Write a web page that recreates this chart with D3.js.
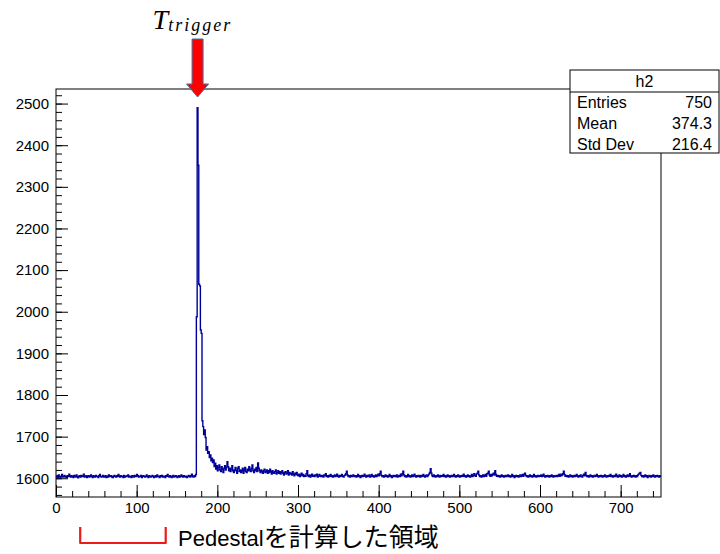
<!DOCTYPE html>
<html>
<head>
<meta charset="utf-8">
<script src="https://cdn.jsdelivr.net/npm/d3@7"></script>
<style>
  html, body { margin: 0; padding: 0; background: #fff; }
  svg { display: block; }
  text { font-family: "Liberation Sans", Arial, Helvetica, sans-serif; }
</style>
</head>
<body>
<svg id="chart" width="720" height="554"></svg>
<script>
// histogram h2 : 750 bins, one value per bin
const counts = [
  1603,1606,1602,1608,1604,1601,1605,1609,1603,1604,
  1607,1603,1605,1602,1606,1604,1610,1605,1603,1606,
  1604,1602,1607,1605,1603,1608,1604,1601,1605,1606,
  1603,1607,1604,1605,1610,1603,1604,1606,1602,1605,
  1606,1603,1605,1608,1604,1602,1606,1604,1603,1607,
  1605,1604,1602,1606,1609,1604,1603,1605,1607,1603,
  1604,1606,1602,1605,1603,1608,1604,1605,1606,1603,
  1602,1605,1607,1604,1603,1606,1604,1609,1605,1603,
  1606,1604,1605,1602,1607,1603,1605,1604,1606,1608,
  1603,1605,1604,1602,1606,1605,1603,1607,1604,1605,
  1609,1606,1603,1605,1604,1607,1602,1605,1606,1604,
  1603,1605,1608,1604,1602,1606,1605,1603,1604,1607,
  1605,1602,1604,1606,1603,1608,1605,1604,1602,1606,
  1604,1607,1603,1605,1604,1602,1606,1605,1609,1604,
  1603,1606,1604,1602,1605,1607,1603,1604,1606,1605,
  1602,1604,1606,1603,1605,1608,1604,1603,1606,1605,
  1603,1605,1602,1604,1607,1605,1603,1606,1610,1604,
  1603,1606,1604,1609,1988,2490,2352,2066,2062,1956,
  1948,1738,1724,1705,1716,1698,1668,1676,1660,1664,
  1650,1656,1642,1648,1638,1644,1628,1636,1622,1630,
  1618,1626,1632,1620,1616,1628,1622,1614,1624,1630,
  1620,1626,1640,1628,1618,1624,1616,1622,1630,1618,
  1614,1620,1626,1618,1612,1624,1628,1616,1620,1614,
  1618,1624,1612,1620,1626,1616,1614,1622,1618,1628,
  1620,1616,1624,1632,1618,1614,1622,1618,1626,1616,
  1637,1624,1618,1614,1620,1616,1612,1618,1622,1614,
  1616,1620,1612,1618,1614,1622,1616,1610,1618,1614,
  1612,1616,1620,1610,1614,1618,1612,1616,1610,1614,
  1618,1612,1608,1614,1616,1610,1612,1618,1608,1614,
  1610,1612,1608,1616,1610,1606,1612,1609,1614,1608,
  1606,1610,1604,1608,1612,1606,1609,1604,1607,1605,
  1611,1618,1606,1604,1608,1603,1606,1610,1605,1607,
  1604,1608,1606,1610,1603,1605,1609,1606,1604,1607,
  1605,1603,1608,1606,1611,1604,1606,1603,1607,1605,
  1609,1604,1606,1603,1605,1608,1604,1606,1610,1605,
  1603,1607,1604,1606,1609,1605,1603,1606,1608,1611,
  1617,1608,1604,1606,1603,1607,1605,1604,1608,1606,
  1604,1606,1603,1605,1609,1604,1606,1602,1605,1607,
  1604,1606,1610,1605,1603,1607,1604,1606,1608,1603,
  1605,1609,1604,1606,1603,1605,1608,1604,1606,1610,
  1606,1611,1617,1607,1604,1606,1603,1605,1608,1604,
  1606,1603,1605,1609,1604,1606,1602,1605,1607,1604,
  1606,1604,1608,1603,1605,1607,1604,1610,1606,1611,
  1617,1608,1604,1606,1603,1605,1609,1604,1606,1603,
  1605,1608,1604,1606,1610,1605,1603,1606,1604,1607,
  1605,1603,1607,1604,1606,1609,1605,1603,1606,1608,
  1604,1607,1610,1614,1623,1612,1606,1604,1608,1605,
  1603,1606,1604,1608,1605,1603,1607,1604,1606,1605,
  1609,1604,1606,1603,1605,1608,1604,1606,1603,1605,
  1607,1604,1606,1609,1605,1603,1606,1604,1608,1605,
  1603,1606,1604,1607,1605,1610,1604,1606,1603,1605,
  1608,1604,1606,1603,1605,1609,1604,1606,1611,1607,
  1605,1610,1612,1617,1608,1604,1606,1603,1605,1608,
  1604,1606,1609,1605,1611,1612,1617,1608,1605,1609,
  1606,1610,1612,1608,1618,1609,1605,1607,1604,1606,
  1603,1605,1608,1604,1606,1603,1605,1607,1604,1606,
  1608,1604,1606,1603,1605,1609,1604,1606,1602,1605,
  1607,1604,1606,1603,1605,1608,1604,1606,1609,1605,
  1610,1612,1607,1604,1606,1603,1605,1608,1604,1606,
  1603,1605,1609,1604,1606,1603,1605,1607,1604,1606,
  1605,1608,1604,1606,1610,1605,1603,1606,1604,1607,
  1605,1603,1606,1604,1608,1605,1603,1606,1604,1605,
  1607,1604,1606,1609,1605,1610,1606,1608,1611,1617,
  1609,1605,1607,1604,1606,1603,1605,1608,1604,1606,
  1603,1605,1607,1604,1606,1609,1605,1603,1606,1604,
  1608,1605,1603,1607,1610,1606,1614,1607,1604,1606,
  1603,1605,1608,1604,1606,1603,1605,1607,1604,1606,
  1609,1605,1603,1606,1604,1607,1605,1603,1606,1604,
  1608,1605,1603,1606,1604,1607,1605,1609,1604,1606,
  1603,1605,1607,1604,1610,1606,1603,1605,1608,1604,
  1606,1603,1605,1609,1604,1606,1603,1605,1608,1604,
  1606,1611,1605,1603,1606,1604,1607,1605,1603,1606,
  1604,1608,1610,1612,1614,1607,1604,1606,1603,1605,
  1608,1604,1606,1602,1604,1607,1605,1603,1606,1604,
  1608,1605,1603,1606,1604,1607,1605,1603,1606,1604
];

const xTicks = [0, 100, 200, 300, 400, 500, 600, 700];
const yTicks = [1600, 1700, 1800, 1900, 2000, 2100, 2200, 2300, 2400, 2500];

const statsTitle = "h2";
const statLabels = ["Entries", "Mean", "Std Dev"];
const statValues = ["750", "374.3", "216.4"];

const pedestalRange = [30, 136];
const pedestalLabel = ["Pedestal", "を計算した領域"];

const svg = d3.select("#chart");

// frame of the pad
const frame = { left: 56, right: 661, top: 89, bottom: 497 };

const x = d3.scaleLinear().domain([0, 750]).range([frame.left, frame.right]);
const y = d3.scaleLinear().domain([1555, 2535]).range([frame.bottom, frame.top]);

svg.append("rect")
  .attr("x", frame.left).attr("y", frame.top)
  .attr("width", frame.right - frame.left)
  .attr("height", frame.bottom - frame.top)
  .attr("fill", "#fff").attr("stroke", "#000").attr("stroke-width", 1);

// minor ticks first, then major ticks with labels (ROOT style: ticks inside)
let minorX = d3.range(0, 751, 20);
let minorY = d3.range(1560, 2535, 20);

function styleLabels(g) {
  g.select(".domain").remove();
  g.selectAll("text").attr("font-size", 15).attr("fill", "#000")
    .style("font-family", "'Liberation Sans', Arial, sans-serif");
}

svg.append("g")
  .attr("transform", `translate(0,${frame.bottom})`)
  .call(d3.axisBottom(x).tickValues(minorX).tickSizeInner(-6).tickSizeOuter(0).tickFormat(""))
  .call(g => g.select(".domain").remove());

svg.append("g")
  .attr("transform", `translate(0,${frame.bottom})`)
  .call(d3.axisBottom(x).tickValues(xTicks).tickSizeInner(-12).tickSizeOuter(0)
    .tickPadding(5).tickFormat(d3.format("d")))
  .call(styleLabels);

svg.append("g")
  .attr("transform", `translate(${frame.left},0)`)
  .call(d3.axisLeft(y).tickValues(minorY).tickSizeInner(-6).tickSizeOuter(0).tickFormat(""))
  .call(g => g.select(".domain").remove());

svg.append("g")
  .attr("transform", `translate(${frame.left},0)`)
  .call(d3.axisLeft(y).tickValues(yTicks).tickSizeInner(-12).tickSizeOuter(0)
    .tickPadding(7).tickFormat(d3.format("d")))
  .call(styleLabels);

svg.selectAll(".tick line").attr("stroke", "#000");

// histogram as steps
let pts = counts.map((v, i) => ({ i: i, v: v }));
pts.push({ i: counts.length, v: counts[counts.length - 1] });

let line = d3.line()
  .x(d => x(d.i))
  .y(d => y(d.v))
  .curve(d3.curveStepAfter);

svg.append("path")
  .datum(pts)
  .attr("d", line)
  .attr("fill", "none")
  .attr("stroke", "#000099")
  .attr("stroke-width", 1.4);

// stats box
const box = { x: 570, y: 70, w: 149, h: 83, title: 22 };
let sb = svg.append("g");
sb.append("rect")
  .attr("x", box.x).attr("y", box.y).attr("width", box.w).attr("height", box.h)
  .attr("fill", "#fff").attr("stroke", "#000");
sb.append("line")
  .attr("x1", box.x).attr("x2", box.x + box.w)
  .attr("y1", box.y + box.title).attr("y2", box.y + box.title)
  .attr("stroke", "#000");
sb.append("text")
  .attr("x", box.x + box.w / 2).attr("y", box.y + 17)
  .attr("text-anchor", "middle").attr("font-size", 16)
  .text(statsTitle);
statLabels.forEach((lab, k) => {
  let yy = box.y + box.title + 16 + k * 21;
  sb.append("text").attr("x", box.x + 7).attr("y", yy)
    .attr("font-size", 16).text(lab);
  sb.append("text").attr("x", box.x + box.w - 7).attr("y", yy)
    .attr("text-anchor", "end").attr("font-size", 16).text(statValues[k]);
});

// trigger arrow above the peak
let peakBin = counts.indexOf(d3.max(counts));
let cx = x(peakBin + 0.5);
svg.append("path")
  .attr("d", `M${cx - 5.5},39 L${cx + 5.5},39 L${cx + 5.5},84 L${cx + 11},84 L${cx},97 L${cx - 11},84 L${cx - 5.5},84 Z`)
  .attr("fill", "#ff0000")
  .attr("stroke", "#41719c")
  .attr("stroke-width", 1);

let tt = svg.append("text")
  .attr("x", cx - 45).attr("y", 29)
  .style("font-family", "'Liberation Serif', 'DejaVu Serif', serif")
  .style("font-style", "italic");
tt.append("tspan").attr("font-size", 28).text("T");
tt.append("tspan").attr("font-size", 18).attr("dy", 2)
  .attr("letter-spacing", 2).text("trigger");

// pedestal region bracket
svg.append("path")
  .attr("d", `M${x(pedestalRange[0])},527 V543 H${x(pedestalRange[1])} V527`)
  .attr("fill", "none")
  .attr("stroke", "#f01818")
  .attr("stroke-width", 2.2)
  .attr("stroke-linejoin", "round");

let pt = svg.append("text").attr("x", 178).attr("y", 546);
pt.append("tspan").attr("font-size", 22).text(pedestalLabel[0]);
pt.append("tspan").attr("font-size", 25)
  .style("font-family", "'Noto Sans CJK JP', sans-serif")
  .text(pedestalLabel[1]);
</script>
</body>
</html>
